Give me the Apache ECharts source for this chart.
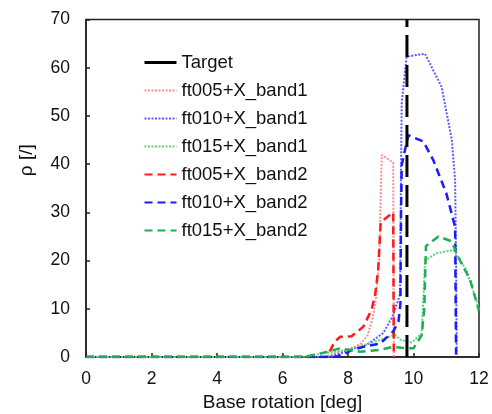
<!DOCTYPE html>
<html>
<head>
<meta charset="utf-8">
<script src="https://cdn.jsdelivr.net/npm/echarts@6/dist/echarts.min.js"></script>
<style>html,body{margin:0;padding:0;background:#fff}#c{width:492px;height:414px}</style>
</head>
<body>
<div id="c"></div>
<script>
var seriesNames = ['Target','ft005+X_band1','ft010+X_band1','ft015+X_band1','ft005+X_band2','ft010+X_band2','ft015+X_band2'];
var xTicks = [0, 2, 4, 6, 8, 10, 12];
var yTicks = [0, 10, 20, 30, 40, 50, 60, 70];

var target = [[9.8, 0], [9.8, 70]];
var ft005_b1 = [[0,0],[7.3,0],[7.6,0.8],[8.0,1.5],[8.4,2.8],[8.6,4.5],[8.75,8],[8.85,12],[8.95,20],[9.03,41.9],[9.38,40.3],[9.4,0]];
var ft010_b1 = [[0,0],[7.4,0],[7.8,0.8],[8.06,1.5],[8.57,2.5],[9.08,5.0],[9.38,8.7],[9.59,13],[9.62,40],[9.64,52.7],[9.79,62.3],[10.35,62.9],[10.86,56],[11.17,45],[11.27,36.7],[11.3,20],[11.32,0.5]];
var ft015_b1 = [[0,0],[6.6,0],[7.0,0.5],[7.5,1.0],[8.0,1.5],[8.5,2.5],[9.0,3.6],[9.43,4.6],[9.6,3.6],[9.94,3.0],[10.25,4.9],[10.3,12],[10.35,20],[10.7,21.5],[11.22,22.2],[11.62,18],[12,10]];
var ft005_b2 = [[0,0],[7.35,0],[7.6,3.2],[7.76,4.2],[8.11,4.3],[8.47,6.3],[8.72,9.8],[8.83,13],[8.92,18],[9.0,28],[9.38,30],[9.4,0]];
var ft010_b2 = [[0,0],[7.6,0],[7.9,0.6],[8.1,1.4],[8.47,2.1],[8.98,2.8],[9.38,5.3],[9.54,7.3],[9.6,11],[9.62,30],[9.64,39.8],[9.84,46],[10.3,44.7],[10.6,40.9],[11.0,34],[11.27,27],[11.3,0.5]];
var ft015_b2 = [[0,0],[6.69,0],[7.2,0.8],[7.76,1.8],[8.37,1.1],[8.98,1.5],[9.38,2.1],[9.64,1.9],[10.0,1.8],[10.25,4.5],[10.33,10],[10.38,23],[10.76,25],[11.16,24],[11.42,20],[11.73,16],[12,9.5]];

var colors = ['#000000','#ff8c8c','#5a5aff','#5fcf85','#ff1a1a','#1a1aff','#1fad55'];
var dataSets = [target, ft005_b1, ft010_b1, ft015_b1, ft005_b2, ft010_b2, ft015_b2];

var font = 'Liberation Sans, Arial, sans-serif';
var series = dataSets.map(function (d, i) {
  var ls;
  if (i === 0) ls = { color: colors[0], width: 3, type: [22, 8] };
  else if (i <= 3) ls = { color: colors[i], width: 2, type: [2, 1.5] };
  else ls = { color: colors[i], width: 2.5, type: [8, 5] };
  return {
    name: seriesNames[i], type: 'line', data: d, symbol: 'none',
    lineStyle: ls, itemStyle: { color: colors[i] }, z: i === 0 ? 5 : 2,
    animation: false
  };
});

var chart = echarts.init(document.getElementById('c'), null, { renderer: 'canvas' });
chart.setOption({
  backgroundColor: '#fff',
  animation: false,
  grid: { left: 86, right: 13, top: 19.5, bottom: 57, containLabel: false, outerBoundsMode: 'none', show: true, borderColor: '#222', borderWidth: 1.5, backgroundColor: 'transparent' },
  legend: {
    orient: 'vertical', left: 138, top: 48, itemWidth: 32, itemHeight: 14, itemGap: 9,
    itemStyle: { opacity: 0 },
    textStyle: { fontFamily: font, fontSize: 18.5, color: '#111' },
    data: seriesNames.map(function (n, i) {
      return i === 0 ? { name: n, lineStyle: { type: 'solid', width: 3 } } : { name: n };
    })
  },
  xAxis: {
    type: 'value', min: xTicks[0], max: xTicks[xTicks.length - 1], interval: 2,
    name: 'Base rotation [deg]', nameLocation: 'middle', nameGap: 33,
    nameTextStyle: { fontFamily: font, fontSize: 19, color: '#111' },
    axisLine: { lineStyle: { color: '#222', width: 1.5 } },
    axisTick: { inside: true, length: 4, lineStyle: { color: '#222', width: 1.5 } },
    axisLabel: { fontFamily: font, fontSize: 17.5, color: '#111', margin: 13 },
    splitLine: { show: false }
  },
  yAxis: {
    type: 'value', min: yTicks[0], max: yTicks[yTicks.length - 1], interval: 10,
    name: 'ρ [/]', nameLocation: 'middle', nameGap: 50, nameRotate: 90,
    nameTextStyle: { fontFamily: font, fontSize: 19, color: '#111', padding: [0, 0, 0, 56] },
    axisLine: { lineStyle: { color: '#222', width: 1.5 } },
    axisTick: { inside: true, length: 4, lineStyle: { color: '#222', width: 1.5 } },
    axisLabel: { fontFamily: font, fontSize: 17.5, color: '#111', margin: 16 },
    splitLine: { show: false }
  },
  series: series
});
</script>
</body>
</html>
